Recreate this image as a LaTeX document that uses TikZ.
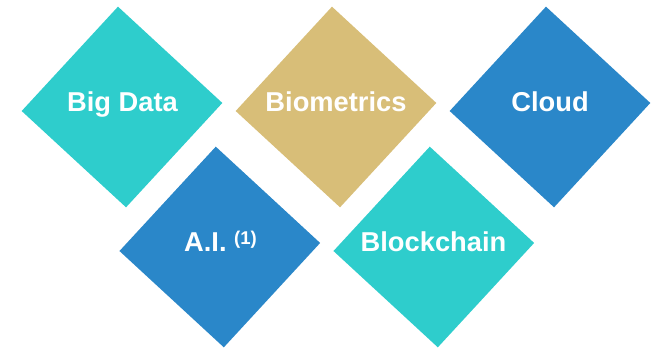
\documentclass[tikz,border=0pt]{standalone}
\usepackage{fontspec}
\setmainfont{Liberation Sans}
\usetikzlibrary{shapes.geometric}

\definecolor{tileteal}{RGB}{46,205,204}
\definecolor{tiletan}{RGB}{216,190,120}
\definecolor{tileblue}{RGB}{42,135,201}

\tikzset{
  tile/.style={diamond, aspect=1, inner sep=0pt, minimum size=201pt,
               draw=none, rotate=2.3},
  tilelabel/.style={anchor=base, text=white, inner sep=0pt,
                    font=\fontsize{27.3}{30}\selectfont\bfseries},
}

\begin{document}
\begin{tikzpicture}[x=1pt,y=1pt]
  \useasboundingbox (0,0) rectangle (654,350);

  % upper row of tiles
  \node[tile, fill=tileteal] (bigdata)    at (122,243)   {};
  \node[tile, fill=tiletan]  (biometrics) at (336,243)   {};
  \node[tile, fill=tileblue] (cloud)      at (550,243)   {};
  % lower row of tiles
  \node[tile, fill=tileblue] (ai)         at (219.8,103) {};
  \node[tile, fill=tileteal] (blockchain) at (433.8,103) {};

  % labels
  \node[tilelabel] (bigdatatext)     at (122.5,238) {Big Data};
  \node[tilelabel] (biometricstext)  at (336,238)   {Biometrics};
  \node[tilelabel] (cloudtext)       at (550,238)   {Cloud};
  \node[tilelabel] (aitext)          at (220.5,98)
    {A.I.\ \raisebox{7pt}{\fontsize{18.5}{18.5}\selectfont\bfseries(1)}};
  \node[tilelabel] (blockchaintext)  at (433.5,98)  {Blockchain};
\end{tikzpicture}
\end{document}
